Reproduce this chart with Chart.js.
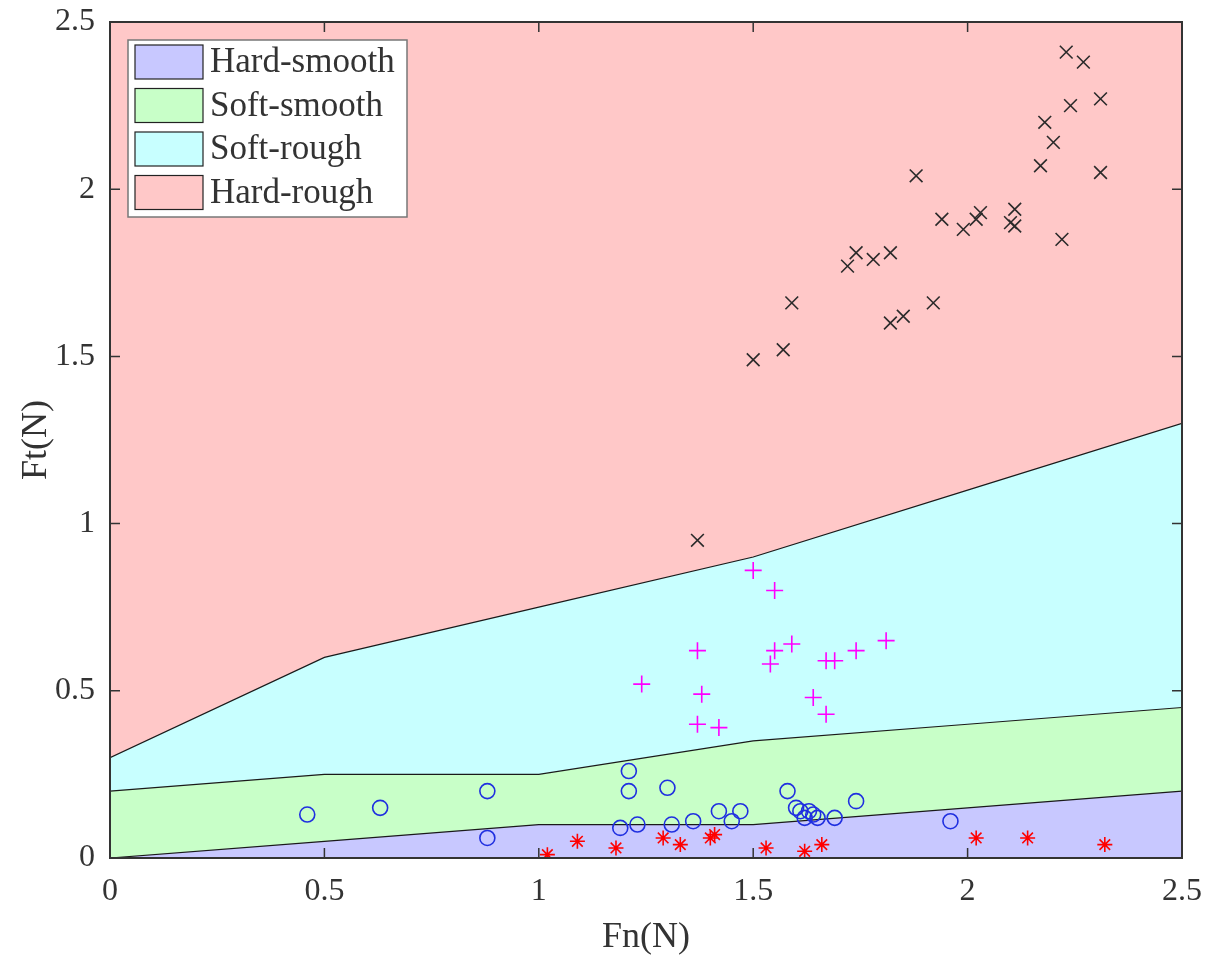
<!DOCTYPE html>
<html>
<head>
<meta charset="utf-8">
<script src="https://cdn.jsdelivr.net/npm/chart.js@4"></script>
<style>
  html, body { margin: 0; padding: 0; background: #fff; }
  #wrap { width: 1209px; height: 959px; }
</style>
</head>
<body>
<div id="wrap"><canvas id="myChart"></canvas></div>
<script>
// region boundaries
const boundaryFn = [0, 0.5, 1, 1.5, 2, 2.5];
const hardSmoothTop = [0, 0.05, 0.1, 0.1, 0.15, 0.2];
const softSmoothTop = [0.2, 0.25, 0.25, 0.35, 0.4, 0.45];
const softRoughTop = [0.3, 0.6, 0.75, 0.9, 1.1, 1.3];
const hardRoughTop = [2.5, 2.5, 2.5, 2.5, 2.5, 2.5];

const regionNames = ['Hard-smooth', 'Soft-smooth', 'Soft-rough', 'Hard-rough'];
const regionColors = ['#c8c8ff', '#c8ffc8', '#c8ffff', '#ffc8c8'];

const tickValues = [0, 0.5, 1, 1.5, 2, 2.5];

// measured samples (Fn, Ft)
const hardRoughFn = [2.23, 2.27, 2.31, 2.24, 2.18, 2.20, 2.17, 2.31, 1.88, 1.94, 2.03, 2.02, 1.99, 2.11, 2.10, 2.11, 2.22, 1.74, 1.72, 1.78, 1.82, 1.59, 1.92, 1.82, 1.85, 1.50, 1.57, 1.37];
const hardRoughFt = [2.41, 2.38, 2.27, 2.25, 2.20, 2.14, 2.07, 2.05, 2.04, 1.91, 1.93, 1.91, 1.88, 1.94, 1.90, 1.89, 1.85, 1.81, 1.77, 1.79, 1.81, 1.66, 1.66, 1.60, 1.62, 1.49, 1.52, 0.95];

const softRoughFn = [1.50, 1.55, 1.37, 1.55, 1.59, 1.54, 1.67, 1.69, 1.74, 1.81, 1.24, 1.38, 1.64, 1.67, 1.37, 1.42];
const softRoughFt = [0.86, 0.80, 0.62, 0.62, 0.64, 0.58, 0.59, 0.59, 0.62, 0.65, 0.52, 0.49, 0.48, 0.43, 0.40, 0.39];

const softSmoothFn = [0.46, 0.63, 0.88, 0.88, 1.21, 1.21, 1.30, 1.19, 1.23, 1.31, 1.36, 1.42, 1.45, 1.47, 1.58, 1.60, 1.61, 1.62, 1.63, 1.64, 1.65, 1.69, 1.74, 1.96];
const softSmoothFt = [0.13, 0.15, 0.20, 0.06, 0.26, 0.20, 0.21, 0.09, 0.10, 0.10, 0.11, 0.14, 0.11, 0.14, 0.20, 0.15, 0.14, 0.12, 0.14, 0.13, 0.12, 0.12, 0.17, 0.11];

const hardSmoothFn = [1.02, 1.09, 1.18, 1.29, 1.33, 1.40, 1.41, 1.53, 1.62, 1.66, 2.02, 2.14, 2.32];
const hardSmoothFt = [0.01, 0.05, 0.03, 0.06, 0.04, 0.06, 0.07, 0.03, 0.02, 0.04, 0.06, 0.06, 0.04];

const pts = (xs, ys) => xs.map((x, i) => ({ x: x, y: ys[i] }));

const serif = '"Liberation Serif", "Times New Roman", serif';
const textColor = '#333';

function areaSet(label, top, color, fill, border) {
    return {
        type: 'line',
        label: label,
        data: pts(boundaryFn, top),
        backgroundColor: color,
        borderColor: '#1a1a1a',
        borderWidth: border,
        pointRadius: 0,
        fill: fill,
        tension: 0,
        order: 10
    };
}

function markerSet(label, xs, ys, style, color, radius) {
    return {
        type: 'scatter',
        label: label,
        data: pts(xs, ys),
        pointStyle: style,
        pointRadius: radius,
        pointBorderColor: color,
        pointBackgroundColor: 'rgba(0,0,0,0)',
        pointBorderWidth: 1.6,
        showLine: false,
        order: 0
    };
}

// frame, inward ticks and legend box
const decorPlugin = {
    id: 'decor',
    afterDraw(chart) {
        const ctx = chart.ctx;
        const a = chart.chartArea;
        const xs = chart.scales.x, ys = chart.scales.y;
        ctx.save();
        ctx.strokeStyle = '#333';
        ctx.lineWidth = 1.5;
        tickValues.forEach(v => {
            const px = xs.getPixelForValue(v);
            const py = ys.getPixelForValue(v);
            ctx.beginPath();
            ctx.moveTo(px, a.bottom); ctx.lineTo(px, a.bottom - 10);
            ctx.moveTo(px, a.top); ctx.lineTo(px, a.top + 10);
            ctx.moveTo(a.left, py); ctx.lineTo(a.left + 10, py);
            ctx.moveTo(a.right, py); ctx.lineTo(a.right - 10, py);
            ctx.stroke();
        });
        ctx.lineWidth = 2;
        ctx.strokeRect(a.left, a.top, a.right - a.left, a.bottom - a.top);

        // legend
        const lx = a.left + 18, ly = a.top + 18, lw = 279, lh = 177;
        ctx.fillStyle = '#fff';
        ctx.fillRect(lx, ly, lw, lh);
        ctx.strokeStyle = '#777';
        ctx.lineWidth = 1.5;
        ctx.strokeRect(lx, ly, lw, lh);
        ctx.font = '35px ' + serif;
        ctx.textBaseline = 'middle';
        regionNames.forEach((name, i) => {
            const cy = ly + 22 + i * 43.5;
            ctx.fillStyle = regionColors[i];
            ctx.fillRect(lx + 7, cy - 17, 68, 34);
            ctx.strokeStyle = '#222';
            ctx.lineWidth = 1.2;
            ctx.strokeRect(lx + 7, cy - 17, 68, 34);
            ctx.fillStyle = textColor;
            ctx.fillText(name, lx + 82, cy + 1);
        });
        ctx.restore();
    }
};

const config = {
    type: 'scatter',
    data: {
        datasets: [
            areaSet(regionNames[0], hardSmoothTop, regionColors[0], 'origin', 1.2),
            areaSet(regionNames[1], softSmoothTop, regionColors[1], '-1', 1.2),
            areaSet(regionNames[2], softRoughTop, regionColors[2], '-1', 1.2),
            areaSet(regionNames[3], hardRoughTop, regionColors[3], '-1', 0),
            markerSet('Hard-rough samples', hardRoughFn, hardRoughFt, 'crossRot', '#2a2a2a', 9),
            markerSet('Soft-rough samples', softRoughFn, softRoughFt, 'cross', '#ff00ff', 8.5),
            markerSet('Soft-smooth samples', softSmoothFn, softSmoothFt, 'circle', '#1f2fe0', 7.5),
            markerSet('Hard-smooth samples', hardSmoothFn, hardSmoothFt, 'star', '#ff0000', 7.5)
        ]
    },
    options: {
        responsive: true,
        maintainAspectRatio: false,
        animation: false,
        events: [],
        layout: { padding: { left: 0, top: 22, right: 27, bottom: 0 } },
        plugins: {
            legend: { display: false },
            tooltip: { enabled: false }
        },
        scales: {
            x: {
                type: 'linear',
                min: 0,
                max: 2.5,
                afterFit: s => { s.height = 101; s.paddingLeft = 0; s.paddingRight = 0; },
                afterBuildTicks: s => { s.ticks = tickValues.map(v => ({ value: v })); },
                grid: { display: false, drawTicks: false },
                border: { display: false },
                ticks: {
                    padding: 14,
                    color: textColor,
                    font: { family: serif, size: 32 },
                    callback: v => String(v)
                },
                title: {
                    display: true,
                    text: 'Fn(N)',
                    color: textColor,
                    font: { family: serif, size: 36 },
                    padding: { top: 0, bottom: 0 }
                }
            },
            y: {
                type: 'linear',
                min: 0,
                max: 2.5,
                afterFit: s => { s.width = 110; s.paddingTop = 0; s.paddingBottom = 0; },
                afterBuildTicks: s => { s.ticks = tickValues.map(v => ({ value: v })); },
                grid: { display: false, drawTicks: false },
                border: { display: false },
                ticks: {
                    padding: 15,
                    color: textColor,
                    font: { family: serif, size: 32 },
                    callback: v => String(v)
                },
                title: {
                    display: true,
                    text: 'Ft(N)',
                    color: textColor,
                    font: { family: serif, size: 36 },
                    padding: { top: 15, bottom: 0 }
                }
            }
        }
    },
    plugins: [decorPlugin]
};

const myChart = new Chart(document.getElementById('myChart'), config);
</script>
</body>
</html>
